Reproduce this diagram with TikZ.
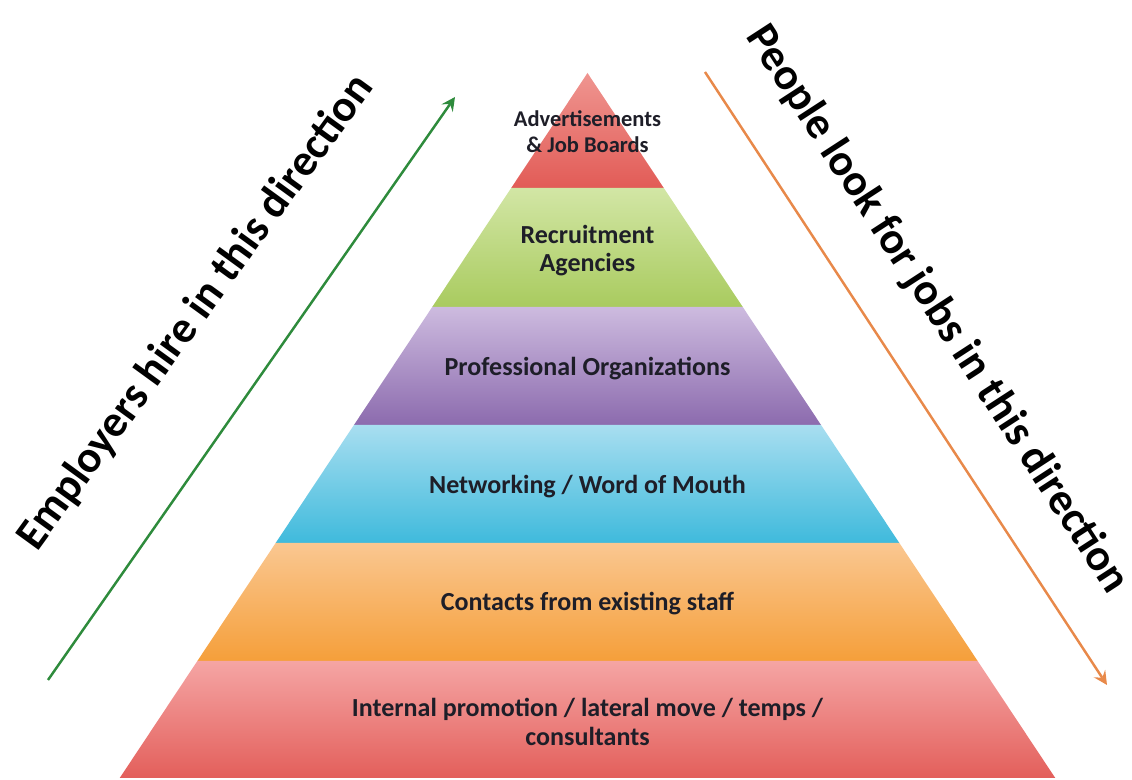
\documentclass[tikz,border=0pt]{standalone}
\usepackage{fontspec}
\setmainfont{Carlito}
\usetikzlibrary{arrows}

\definecolor{hirecol}{HTML}{2E8B3C}
\definecolor{lookcol}{HTML}{E8894A}
\definecolor{labelcol}{HTML}{1E1E28}
\definecolor{advtop}{HTML}{EF9590}
\definecolor{advbot}{HTML}{E25C57}
\definecolor{agtop}{HTML}{D2E6A5}
\definecolor{agbot}{HTML}{A9CB5F}
\definecolor{proftop}{HTML}{CDBBDF}
\definecolor{profbot}{HTML}{8C6BAE}
\definecolor{nettop}{HTML}{A8DEF0}
\definecolor{netbot}{HTML}{3FBADC}
\definecolor{contop}{HTML}{FAC791}
\definecolor{conbot}{HTML}{F59F3A}
\definecolor{inttop}{HTML}{F5A5A4}
\definecolor{intbot}{HTML}{E35F5B}

\begin{document}
\begin{tikzpicture}[
            x = 0.01cm, y = -0.01cm, % pixel grid, y runs down
            > = stealth, % arrow head style
            line width = 0.7pt % line style
        ]

        \tikzstyle{layer label}=[
            text = labelcol,
            align = center,
            font = \bfseries\fontsize{7.4}{8}\selectfont
        ]
        \tikzstyle{side label}=[
            anchor = base,
            font = \bfseries\fontsize{12.7}{15}\selectfont
        ]

        \useasboundingbox (0,0) rectangle (1132,780);

        % pyramid layers, top to bottom
        \foreach \a/\b/\ca/\cb in {73/188/advtop/advbot, 188/307/agtop/agbot,
                307/425/proftop/profbot, 425/543/nettop/netbot,
                543/661/contop/conbot, 661/778/inttop/intbot}
            \shade[top color=\ca, bottom color=\cb]
                ({587.5-0.6635*(\a-73)},\a) -- ({587.5+0.6635*(\a-73)},\a)
                -- ({587.5+0.6635*(\b-73)},\b) -- ({587.5-0.6635*(\b-73)},\b) -- cycle;

        \node[layer label, font=\bfseries\fontsize{6.4}{7.4}\selectfont] (adv) at (587.5,132) {Advertisements\\\& Job Boards};
        \node[layer label] (agency) at (587.5,251) {Recruitment\\Agencies};
        \node[layer label] (prof) at (587.5,369) {Professional Organizations};
        \node[layer label] (network) at (587.5,487) {Networking / Word of Mouth};
        \node[layer label] (contact) at (587.5,604) {Contacts from existing staff};
        \node[layer label] (internal) at (587.5,722) {Internal promotion / lateral move / temps /\\consultants};

        \coordinate (hireStart) at (48,680);
        \coordinate (hireEnd) at (455,97);
        \coordinate (lookStart) at (705,72);
        \coordinate (lookEnd) at (1107,685);

        \draw[->, hirecol] (hireStart) -- (hireEnd);
        \draw[->, lookcol] (lookStart) -- (lookEnd);

        \node[side label, rotate=54] (hire) at (206,320) {Employers hire in this direction};
        \node[side label, rotate=-57] (look) at (927,316) {People look for jobs in this direction};

  \end{tikzpicture}
\end{document}
